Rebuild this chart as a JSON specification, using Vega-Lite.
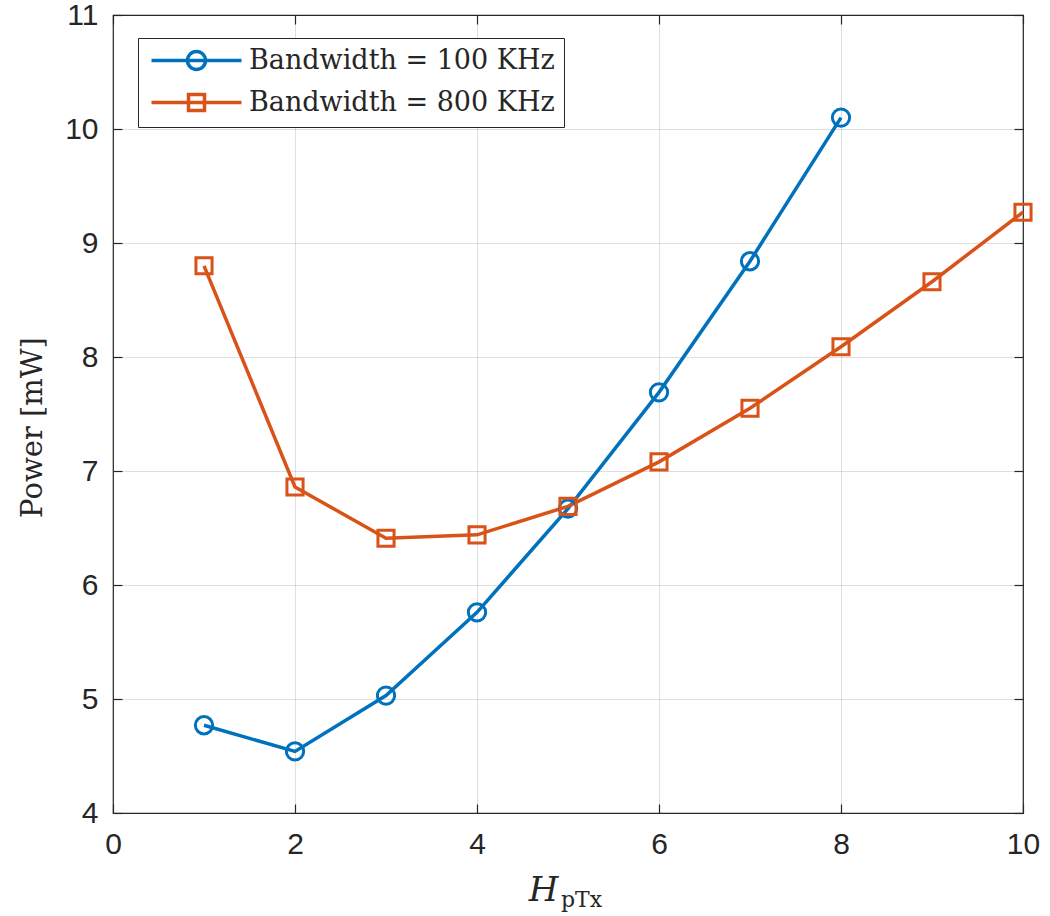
{
  "$schema": "https://vega.github.io/schema/vega-lite/v6.json",
  "width": 910,
  "height": 798,
  "autosize": {"type": "none"},
  "padding": {"left": 113, "top": 15, "right": 27, "bottom": 103},
  "background": "white",
  "config": {
    "view": {"stroke": "#262626", "strokeWidth": 1.2},
    "axis": {
      "labelFont": "Liberation Sans",
      "labelFontSize": 30,
      "labelColor": "#262626",
      "labelFlush": false,
      "gridColor": "#262626",
      "gridOpacity": 0.15,
      "gridWidth": 1,
      "domain": false,
      "tickColor": "#262626",
      "tickSize": -9,
      "tickWidth": 1.2,
      "titleFont": "DejaVu Serif",
      "titleFontWeight": "normal",
      "titleColor": "#262626"
    },
    "legend": {
      "labelFont": "DejaVu Serif",
      "labelFontSize": 27,
      "labelColor": "#262626",
      "labelLimit": 500
    }
  },
  "data": {
    "values": [
      {"h": 1, "p": 4.77, "series": "Bandwidth = 100 KHz"},
      {"h": 2, "p": 4.54, "series": "Bandwidth = 100 KHz"},
      {"h": 3, "p": 5.03, "series": "Bandwidth = 100 KHz"},
      {"h": 4, "p": 5.76, "series": "Bandwidth = 100 KHz"},
      {"h": 5, "p": 6.67, "series": "Bandwidth = 100 KHz"},
      {"h": 6, "p": 7.69, "series": "Bandwidth = 100 KHz"},
      {"h": 7, "p": 8.84, "series": "Bandwidth = 100 KHz"},
      {"h": 8, "p": 10.10, "series": "Bandwidth = 100 KHz"},
      {"h": 1, "p": 8.80, "series": "Bandwidth = 800 KHz"},
      {"h": 2, "p": 6.86, "series": "Bandwidth = 800 KHz"},
      {"h": 3, "p": 6.41, "series": "Bandwidth = 800 KHz"},
      {"h": 4, "p": 6.44, "series": "Bandwidth = 800 KHz"},
      {"h": 5, "p": 6.69, "series": "Bandwidth = 800 KHz"},
      {"h": 6, "p": 7.08, "series": "Bandwidth = 800 KHz"},
      {"h": 7, "p": 7.55, "series": "Bandwidth = 800 KHz"},
      {"h": 8, "p": 8.09, "series": "Bandwidth = 800 KHz"},
      {"h": 9, "p": 8.66, "series": "Bandwidth = 800 KHz"},
      {"h": 10, "p": 9.27, "series": "Bandwidth = 800 KHz"}
    ]
  },
  "layer": [
    {
      "mark": {"type": "line", "strokeWidth": 3.5},
      "encoding": {
        "x": {
          "field": "h", "type": "quantitative",
          "scale": {"domain": [0, 10], "nice": false},
          "axis": {
            "values": [0, 2, 4, 6, 8, 10],
            "labelPadding": 25,
            "title": "H",
            "titleFont": "DejaVu Serif",
            "titleFontStyle": "italic",
            "titleFontSize": 34,
            "titleX": 430,
            "titleY": 87,
            "titleBaseline": "alphabetic",
            "titleAlign": "center"
          }
        },
        "y": {
          "field": "p", "type": "quantitative",
          "scale": {"domain": [4, 11], "nice": false, "zero": false},
          "axis": {
            "values": [4, 5, 6, 7, 8, 9, 10, 11],
            "format": "d",
            "labelPadding": 24,
            "title": "Power [mW]",
            "titleFontSize": 29,
            "titleX": -66,
            "titleY": 412,
            "titleAngle": -90,
            "titleBaseline": "bottom",
            "titleAlign": "center"
          }
        },
        "color": {
          "field": "series", "type": "nominal",
          "scale": {"domain": ["Bandwidth = 100 KHz", "Bandwidth = 800 KHz"], "range": ["#0072BD", "#D95319"]},
          "legend": {
            "title": null,
            "orient": "none",
            "legendX": 25,
            "legendY": 23,
            "fillColor": "white",
            "strokeColor": "#262626",
            "padding": 9,
            "rowPadding": 10,
            "symbolSize": 100,
            "symbolStrokeWidth": 3.5,
            "symbolOffset": 36,
            "labelOffset": 39,
            "encode": {
              "symbols": {
                "update": {
                  "shape": {"signal": "datum.value === 'Bandwidth = 100 KHz' ? 'M-9,0H9M-1.8,0A1.8,1.8,0,1,1,1.8,0A1.8,1.8,0,1,1,-1.8,0' : 'M-9,0H9M-1.6,-1.6H1.6V1.6H-1.6Z'"},
                  "fill": {"value": "transparent"}
                }
              }
            }
          }
        }
      }
    },
    {
      "transform": [{"filter": "datum.series === 'Bandwidth = 100 KHz'"}],
      "mark": {"type": "point", "shape": "circle", "filled": false, "strokeWidth": 3, "opacity": 1, "size": 300},
      "encoding": {
        "x": {
          "field": "h", "type": "quantitative",
          "scale": {"domain": [0, 10], "nice": false},
          "axis": {
            "orient": "top",
            "values": [0, 2, 4, 6, 8, 10],
            "labels": false,
            "ticks": true,
            "grid": false,
            "domain": false,
            "title": "pTx",
            "titleFont": "DejaVu Serif",
            "titleFontSize": 22,
            "titleX": 468,
            "titleY": 891,
            "titleBaseline": "alphabetic",
            "titleAlign": "center"
          }
        },
        "y": {
          "field": "p", "type": "quantitative",
          "scale": {"domain": [4, 11], "nice": false, "zero": false},
          "axis": {
            "orient": "right",
            "values": [4, 5, 6, 7, 8, 9, 10, 11],
            "labels": false,
            "ticks": true,
            "grid": false,
            "domain": false,
            "title": null
          }
        },
        "color": {"value": "#0072BD"}
      }
    },
    {
      "transform": [{"filter": "datum.series === 'Bandwidth = 800 KHz'"}],
      "mark": {"type": "point", "shape": "square", "filled": false, "strokeWidth": 3, "opacity": 1, "size": 260},
      "encoding": {
        "x": {
          "field": "h", "type": "quantitative",
          "scale": {"domain": [0, 10], "nice": false},
          "axis": null
        },
        "y": {
          "field": "p", "type": "quantitative",
          "scale": {"domain": [4, 11], "nice": false, "zero": false},
          "axis": null
        },
        "color": {"value": "#D95319"}
      }
    }
  ],
  "resolve": {"axis": {"x": "independent", "y": "independent"}}
}
